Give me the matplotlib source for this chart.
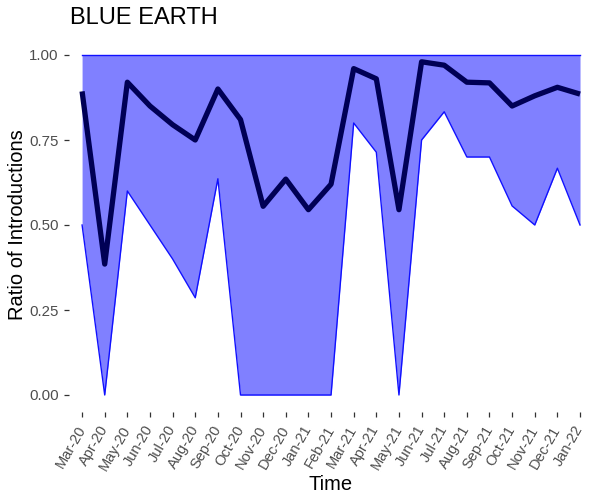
import matplotlib
matplotlib.use("Agg")
import matplotlib.pyplot as plt
import numpy as np

months = ["Mar-20", "Apr-20", "May-20", "Jun-20", "Jul-20", "Aug-20", "Sep-20", "Oct-20",
          "Nov-20", "Dec-20", "Jan-21", "Feb-21", "Mar-21", "Apr-21", "May-21", "Jun-21",
          "Jul-21", "Aug-21", "Sep-21", "Oct-21", "Nov-21", "Dec-21", "Jan-22"]
ratio = [0.893, 0.385, 0.92, 0.85, 0.795, 0.75, 0.90, 0.81, 0.555, 0.635, 0.545, 0.62,
         0.96, 0.93, 0.545, 0.98, 0.97, 0.92, 0.918, 0.85, 0.88, 0.905, 0.885]
lower = [0.5, 0.0, 0.6, 0.5, 0.4, 0.286, 0.636, 0.0, 0.0, 0.0, 0.0, 0.0,
         0.8, 0.714, 0.0, 0.75, 0.833, 0.7, 0.7, 0.556, 0.5, 0.667, 0.5]
upper = [1.0] * len(months)
yticks = [0.0, 0.25, 0.5, 0.75, 1.0]
ytick_labels = ["0.00", "0.25", "0.50", "0.75", "1.00"]

plt.rcParams['font.family'] = ['Liberation Sans', 'DejaVu Sans']

W, H = 590, 497
fig = plt.figure(figsize=(W / 100, H / 100), dpi=100)
left, right, top, bottom = 68.5, 593.6, 38, 412
ax = fig.add_axes([left / W, 1 - bottom / H, (right - left) / W, (bottom - top) / H])

x = np.arange(len(months))
ax.fill_between(x, lower, upper, color="#8080ff", linewidth=0)
ax.plot(x, lower, color="#1010ff", lw=1.0)
ax.plot(x, upper, color="#1010ff", lw=1.0)
ax.plot(x, ratio, color="#000055", lw=3.8, solid_capstyle="butt", solid_joinstyle="round")

ax.set_xlim(-0.6, len(months) - 1 + 0.6)
ax.set_ylim(-0.05, 1.05)
ax.set_xticks(x)
ax.set_xticklabels(months, rotation=60, ha="right", va="center", rotation_mode="anchor")
ax.set_yticks(yticks)
ax.set_yticklabels(ytick_labels)
for s in ax.spines.values():
    s.set_visible(False)
ax.tick_params(axis="both", colors="#333333", labelcolor="#4d4d4d", labelsize=10.8,
               length=3.5, width=0.9)
ax.tick_params(axis="x", labelsize=10.5, pad=7)
ax.set_xlabel("Time", fontsize=14.5, labelpad=2)
ax.yaxis.set_label_coords(-(left - 18) / (right - left), 0.5)
ax.set_ylabel("Ratio of Introductions", fontsize=14.5, va="center")
fig.text(70 / W, 1 - 18 / H, "BLUE EARTH", fontsize=17, va="center", ha="left")

fig.savefig("out.png", dpi=100)
